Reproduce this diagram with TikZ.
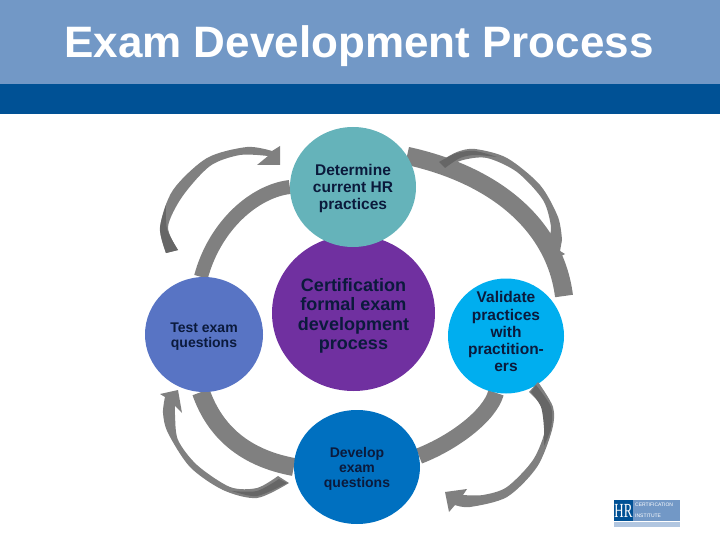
\documentclass[tikz,border=0pt]{standalone}
\usepackage{fontspec}
\setmainfont{Liberation Sans}
\newfontfamily\logofont{Liberation Serif}
\usepackage{tikz}
\usetikzlibrary{shapes.geometric, backgrounds}
\definecolor{headlight}{HTML}{7298C6}
\definecolor{headdark}{HTML}{005195}
\definecolor{tealball}{HTML}{65B3BA}
\definecolor{purpleball}{HTML}{7030A0}
\definecolor{slateball}{HTML}{5874C4}
\definecolor{cyanball}{HTML}{00AEEF}
\definecolor{blueball}{HTML}{0070C0}
\definecolor{ringgray}{HTML}{808080}
\definecolor{sweepdark}{HTML}{666666}
\definecolor{inktext}{HTML}{0B1A3C}
\tikzset{
	ball/.style n args={2}{ellipse, inner sep=0pt, align=center, text=inktext, font=\bfseries\fontsize{#1}{#2}\selectfont},
	ring/.style={draw=ringgray, line width=18pt},
	sweep/.style={fill=ringgray},
	sweepshade/.style={fill=sweepdark},
	logotext/.style={text=white, inner sep=0pt, anchor=west, font=\fontsize{5}{5}\selectfont}
}
\begin{document}
\begin{tikzpicture}[x=1pt, y=-1pt]
		\useasboundingbox (0,0) rectangle (720,540);
		\fill[headlight] (0,0) rectangle (720,84);
		\fill[headdark] (0,84) rectangle (720,114);
		\node[text=white, font=\bfseries\fontsize{44}{48}\selectfont] (title) at (359,46) {Exam Development Process};

		\node[ball={18}{19.5}, fill=purpleball, minimum width=163pt, minimum height=156pt] (center) at (353.5,313) {\rule{0pt}{19pt}Certification\\formal exam\\development\\process};
		\node[ball={15.5}{17}, fill=tealball, minimum width=126pt, minimum height=120pt] (determine) at (353,187) {\rule{0pt}{13.5pt}Determine\\current HR\\practices};
		\node[ball={14}{15}, fill=slateball, minimum width=118pt, minimum height=115pt] (test) at (204,334.5) {\rule{0pt}{14.5pt}Test exam\\questions};
		\node[ball={15.5}{17.3}, fill=cyanball, minimum width=116pt, minimum height=115pt] (validate) at (506,336) {\raisebox{-1.5pt}[38pt][38pt]{\begin{tabular}{@{}c@{}}Validate\\practices\\with\\practition-\\ers\end{tabular}}};
		\node[ball={14}{15}, fill=blueball, minimum width=126pt, minimum height=114pt] (develop) at (357,467) {\rule{0pt}{14.5pt}Develop\\exam\\questions};
		\coordinate (ringend) at (564,296);

		\begin{scope}[on background layer]
			\draw[ring, line width=14pt] (determine.180) .. controls (255,191) and (215,225) .. (test.93);
			\draw[ring] (determine.30) .. controls (495,175) and (555,225) .. (ringend);
			\draw[ring] (test.-93) .. controls (215,432) and (245,458) .. (develop.180);
			\draw[ring, line width=16pt] (develop.10) .. controls (455,442) and (490,415) .. (validate.-100);
		\end{scope}

		% top left sweep
		\fill[sweep] plot[smooth] coordinates {(166,253) (160,227) (173,190) (207,158) (247,147) (272,151)} -- (280,146) -- (280,165) -- (257,165) -- plot[smooth] coordinates {(268,156) (240,155) (210,166) (182,197) (168,227) (178,250)} -- cycle;
		\fill[sweepshade] plot[smooth] coordinates {(166,253) (160,229) (166,205)} -- plot[smooth] coordinates {(166,205) (167,229) (178,250)} -- cycle;
		% top right sweep
		\fill[sweep] plot[smooth] coordinates {(439,162) (457,152) (475,149) (507,158) (540,185) (558,217) (562,240)} -- (560,251) -- (565,254) -- (549,262) -- plot[smooth] coordinates {(548,240) (551,227) (543,200) (517,172) (487,158) (463,160) (445,168)} -- cycle;
		\fill[sweepshade] plot[smooth] coordinates {(439,162) (457,153) (475,151) (497,157)} -- plot[smooth] coordinates {(497,157) (475,155) (460,158) (445,168)} -- cycle;
		% bottom right sweep
		\fill[sweep] plot[smooth] coordinates {(538,382) (553,407) (552,430) (537,467) (507,497) (470,507) (455,505)} -- (449,512) -- (445,492) -- (467,489) -- plot[smooth] coordinates {(463,495) (483,495) (507,487) (533,460) (545,430) (542,407) (529,392)} -- cycle;
		\fill[sweepshade] plot[smooth] coordinates {(536,385) (551,407) (551,428) (544,446)} -- plot[smooth] coordinates {(544,446) (544,428) (541,407) (531,392)} -- cycle;
		% bottom left sweep
		\fill[sweep] plot[smooth] coordinates {(289,483) (257,498) (223,490) (190,467) (168,433) (163,413) (165,397)} -- (160,394) -- (178,390) -- (182,413) -- plot[smooth] coordinates {(175,406) (175,415) (178,440) (197,465) (230,487) (257,488) (278,476)} -- cycle;
		\fill[sweepshade] plot[smooth] coordinates {(287,483) (257,496) (232,491)} -- plot[smooth] coordinates {(232,491) (257,491) (279,479)} -- cycle;

		% logo
		\fill[headlight] (633,500) rectangle (680,521);
		\fill[headdark] (614,500) rectangle (633,521);
		\fill[headlight!55] (614,522) rectangle (680,527);
		\node[text=white, inner sep=0pt, font=\fontsize{20}{20}\selectfont\logofont] (logomark) at (623.5,510.5) {\scalebox{.65}[1]{HR}};
		\node[logotext] (logoupper) at (635,504.5) {CERTIFICATION};
		\node[logotext] (logolower) at (635,515.5) {INSTITUTE};
	\end{tikzpicture}
\end{document}
